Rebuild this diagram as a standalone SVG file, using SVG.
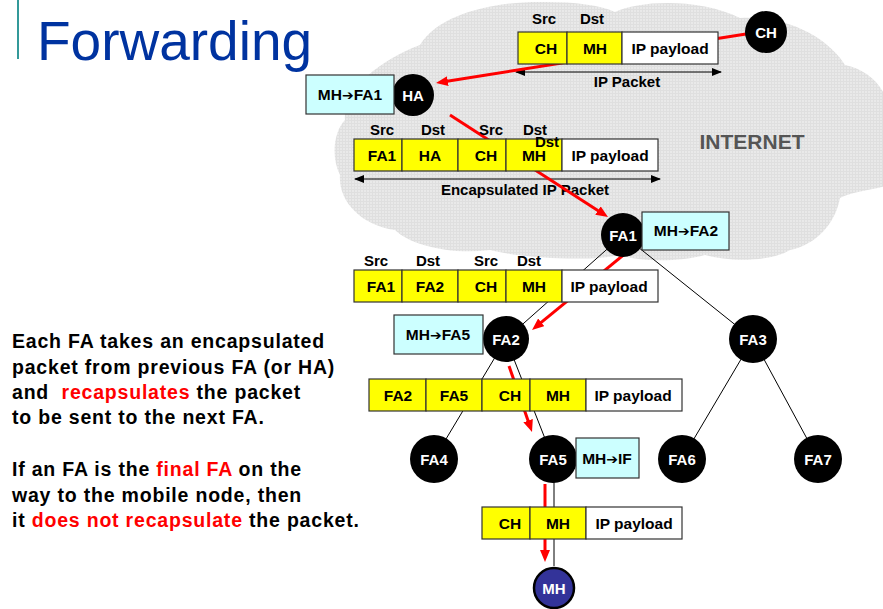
<svg xmlns="http://www.w3.org/2000/svg" width="883" height="609" viewBox="0 0 883 609">
<style>
.t{font-family:"Liberation Sans",Arial,sans-serif;font-weight:bold}
.cell{font-size:15.5px;fill:#000;text-anchor:middle}
.lbl{font-size:15px;fill:#000;text-anchor:middle}
.bx{font-size:15.5px;fill:#000;text-anchor:middle}
.nodet{font-size:15px;fill:#fff;text-anchor:middle}
.ar{font-family:"DejaVu Sans",sans-serif;font-weight:bold;font-size:14px}
.y{fill:#ffff00;stroke:#333;stroke-width:1.2}
.w{fill:#fff;stroke:#333;stroke-width:1.2}
.box{fill:#ccffff;stroke:#333;stroke-width:1.2}
.node{fill:#000}
.red{stroke:#ff0000;stroke-width:3;fill:none;marker-end:url(#ra)}
.tree{stroke:#000;stroke-width:1;fill:none}
.dim{stroke:#000;stroke-width:1;marker-start:url(#da);marker-end:url(#da)}
.side{font-size:19.5px;letter-spacing:0.8px;fill:#000}
.rt{fill:#ff0000}
</style>
<defs>
<pattern id="grid" width="3" height="3" patternUnits="userSpaceOnUse">
<rect width="3" height="3" fill="#e9e9e9"/>
<path d="M0,0.5 H3 M0.5,0 V3" stroke="#dfdfdf" stroke-width="1"/>
</pattern>
<marker id="ra" markerUnits="userSpaceOnUse" markerWidth="12" markerHeight="10" viewBox="0 0 12 10" refX="4" refY="5" orient="auto">
<path d="M0,0 L12,5 L0,10 z" fill="#ff0000"/>
</marker>
<marker id="da" markerUnits="userSpaceOnUse" markerWidth="10" markerHeight="8" viewBox="0 0 10 8" refX="9" refY="4" orient="auto-start-reverse">
<path d="M0,0 L10,4 L0,8 z" fill="#000"/>
</marker>
</defs>

<!-- cloud -->
<path id="cloud" fill="url(#grid)" d="M345,120 C342,90 380,60 420,45 C440,12 500,1 545,2 C575,2 600,5 615,12 C640,0 700,-2 740,18 C790,15 830,40 845,65 C870,70 890,90 890,120 L890,185 C870,190 850,192 840,198 C835,225 815,245 790,250 C770,262 730,262 705,255 C680,262 640,262 620,255 C590,262 520,258 490,250 C450,255 410,245 395,230 C360,225 338,200 340,175 C330,155 335,130 345,120 Z"/>

<!-- title -->
<line x1="18" y1="0" x2="18" y2="59" stroke="#339999" stroke-width="2"/>
<text x="37" y="60" class="t" style="font-weight:normal;font-size:55px;fill:#0033a0">Forwarding</text>

<text x="752" y="149" class="t" style="font-size:21px;fill:#555;text-anchor:middle">INTERNET</text>

<!-- dimension arrows -->
<g id="dims">
<line class="dim" x1="516" y1="72" x2="721" y2="72"/>
<text x="627" y="87" class="t lbl">IP Packet</text>
<line class="dim" x1="355" y1="179" x2="660" y2="179"/>
<text x="525" y="195" class="t lbl">Encapsulated IP Packet</text>
</g>

<!-- connectors -->
<g id="connectors">
<line class="tree" x1="623" y1="235" x2="753" y2="339"/>
<line class="tree" x1="623" y1="235" x2="506" y2="339"/>
<line class="tree" x1="753" y1="339" x2="682" y2="459"/>
<line class="tree" x1="753" y1="339" x2="818" y2="459"/>
<line class="tree" x1="506" y1="339" x2="434" y2="459"/>
<line class="tree" x1="506" y1="339" x2="553" y2="459"/>
<line class="tree" x1="554" y1="459" x2="554" y2="566"/>
<line class="red" x1="746" y1="34" x2="443.9" y2="81.7"/>
<line class="red" x1="450" y1="115" x2="601.3" y2="212.7"/>
<line class="red" x1="632" y1="248" x2="538.2" y2="324.9"/>
<line class="red" x1="509" y1="366" x2="529.4" y2="424.4"/>
<line class="red" x1="545" y1="484" x2="545" y2="554"/>
</g>

<!-- packets -->
<g id="packet1">
<text x="544" y="24" class="t lbl">Src</text>
<text x="592" y="24" class="t lbl">Dst</text>
<rect class="y" x="518" y="32" width="49" height="32"/>
<rect class="y" x="567" y="32" width="55" height="32"/>
<rect class="w" x="622" y="32" width="96" height="32"/>
<text x="546" y="54" class="t cell">CH</text>
<text x="595" y="54" class="t cell">MH</text>
<text x="670" y="54" class="t cell">IP payload</text>
</g>

<g id="packet2">
<text x="382" y="135" class="t lbl">Src</text>
<text x="433" y="135" class="t lbl">Dst</text>
<text x="491" y="135" class="t lbl">Src</text>
<text x="535" y="135" class="t lbl">Dst</text>
<rect class="y" x="354" y="139" width="48" height="32"/>
<rect class="y" x="402" y="139" width="56" height="32"/>
<rect class="y" x="458" y="139" width="48" height="32"/>
<rect class="y" x="506" y="139" width="56" height="32"/>
<rect class="w" x="562" y="139" width="96" height="32"/>
<text x="547" y="147" class="t lbl">Dst</text>
<text x="382" y="161" class="t cell">FA1</text>
<text x="430" y="161" class="t cell">HA</text>
<text x="486" y="161" class="t cell">CH</text>
<text x="534" y="161" class="t cell">MH</text>
<text x="610" y="161" class="t cell">IP payload</text>
</g>

<g id="packet3">
<text x="376" y="266" class="t lbl">Src</text>
<text x="428" y="266" class="t lbl">Dst</text>
<text x="486" y="266" class="t lbl">Src</text>
<text x="529" y="266" class="t lbl">Dst</text>
<rect class="y" x="354" y="270" width="48" height="32"/>
<rect class="y" x="402" y="270" width="56" height="32"/>
<rect class="y" x="458" y="270" width="48" height="32"/>
<rect class="y" x="506" y="270" width="56" height="32"/>
<rect class="w" x="562" y="270" width="96" height="32"/>
<text x="381" y="292" class="t cell">FA1</text>
<text x="430" y="292" class="t cell">FA2</text>
<text x="486" y="292" class="t cell">CH</text>
<text x="534" y="292" class="t cell">MH</text>
<text x="609" y="292" class="t cell">IP payload</text>
</g>

<g id="packet4">
<rect class="y" x="369" y="379" width="57" height="32"/>
<rect class="y" x="426" y="379" width="56" height="32"/>
<rect class="y" x="482" y="379" width="48" height="32"/>
<rect class="y" x="530" y="379" width="56" height="32"/>
<rect class="w" x="586" y="379" width="96" height="32"/>
<text x="398" y="401" class="t cell">FA2</text>
<text x="454" y="401" class="t cell">FA5</text>
<text x="510" y="401" class="t cell">CH</text>
<text x="558" y="401" class="t cell">MH</text>
<text x="633" y="401" class="t cell">IP payload</text>
</g>

<g id="packet5">
<rect class="y" x="482" y="507" width="48" height="32"/>
<rect class="y" x="530" y="507" width="56" height="32"/>
<rect class="w" x="586" y="507" width="96" height="32"/>
<text x="510" y="529" class="t cell">CH</text>
<text x="558" y="529" class="t cell">MH</text>
<text x="634" y="529" class="t cell">IP payload</text>
</g>

<!-- nodes -->
<g id="node-CH"><circle class="node" cx="766" cy="32" r="21"/><text x="766" y="37.5" class="t nodet">CH</text></g>
<g id="node-HA"><circle class="node" cx="413" cy="95" r="21"/><text x="413" y="100.5" class="t nodet">HA</text></g>
<g id="node-FA1"><circle class="node" cx="623" cy="235" r="22"/><text x="623" y="240.5" class="t nodet">FA1</text></g>
<g id="node-FA2"><circle class="node" cx="506" cy="339" r="23"/><text x="506" y="344.5" class="t nodet">FA2</text></g>
<g id="node-FA3"><circle class="node" cx="753" cy="339" r="24"/><text x="753" y="344.5" class="t nodet">FA3</text></g>
<g id="node-FA4"><circle class="node" cx="434" cy="459" r="24"/><text x="434" y="464.5" class="t nodet">FA4</text></g>
<g id="node-FA5"><circle class="node" cx="553" cy="459" r="24"/><text x="553" y="464.5" class="t nodet">FA5</text></g>
<g id="node-FA6"><circle class="node" cx="682" cy="459" r="24"/><text x="682" y="464.5" class="t nodet">FA6</text></g>
<g id="node-FA7"><circle class="node" cx="818" cy="459" r="24"/><text x="818" y="464.5" class="t nodet">FA7</text></g>
<g id="node-MH"><circle cx="554" cy="588" r="20" fill="#333399" stroke="#000" stroke-width="2.5"/><text x="554" y="593.5" class="t nodet">MH</text></g>

<!-- binding boxes -->
<g id="box-HA"><rect class="box" x="306" y="75" width="88" height="39"/><text x="350" y="100" class="t bx">MH<tspan class="ar">➔</tspan>FA1</text></g>
<g id="box-FA1"><rect class="box" x="642" y="212" width="87" height="38"/><text x="686" y="236" class="t bx">MH<tspan class="ar">➔</tspan>FA2</text></g>
<g id="box-FA2"><rect class="box" x="394" y="315" width="89" height="39"/><text x="438" y="340" class="t bx">MH<tspan class="ar">➔</tspan>FA5</text></g>
<g id="box-FA5"><rect class="box" x="576" y="438" width="63" height="40"/><text x="607" y="464" class="t bx">MH<tspan class="ar">➔</tspan>IF</text></g>

<!-- side text -->
<g id="notes" class="t">
<text x="12" y="348" class="side">Each FA takes an encapsulated</text>
<text x="12" y="374" class="side">packet from previous FA (or HA)</text>
<text x="12" y="399" class="side" xml:space="preserve">and  <tspan class="rt">recapsulates</tspan> the packet</text>
<text x="12" y="424" class="side">to be sent to the next FA.</text>
<text x="12" y="476" class="side">If an FA is the <tspan class="rt">final FA</tspan> on the</text>
<text x="12" y="502" class="side">way to the mobile node, then</text>
<text x="12" y="527" class="side">it <tspan class="rt">does not recapsulate</tspan> the packet.</text>
</g>
</svg>
